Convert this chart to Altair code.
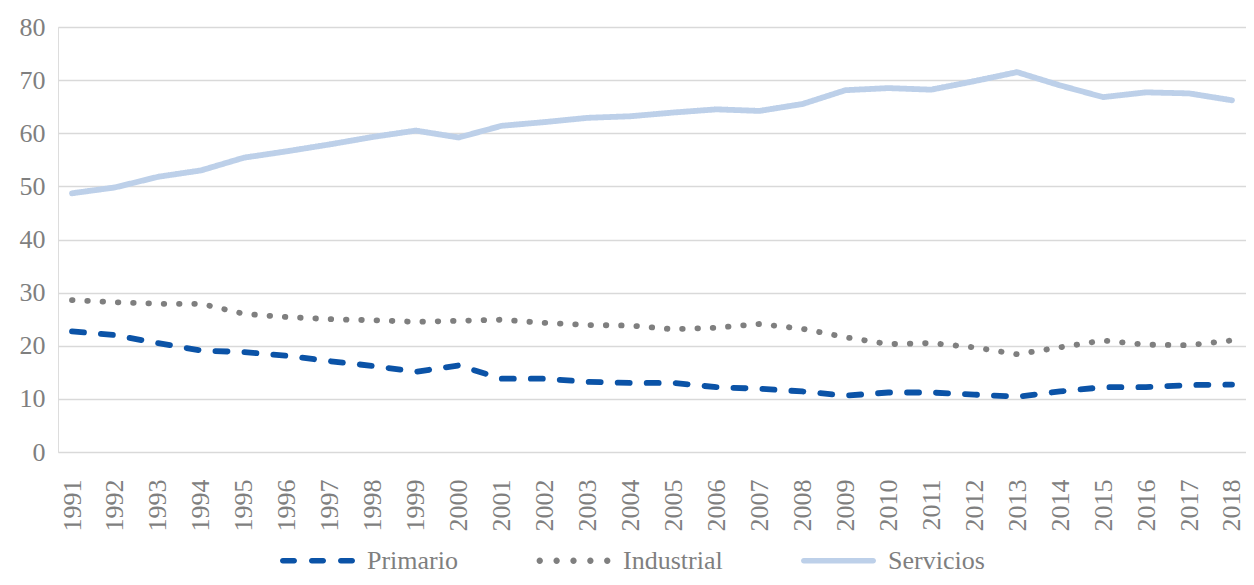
import altair as alt
import pandas as pd

years = list(range(1991, 2019))
series_names = ["Primario", "Industrial", "Servicios"]
primario = [22.7, 22.0, 20.5, 19.1, 18.8, 18.1, 17.1, 16.2, 15.1, 16.3, 13.8, 13.8, 13.2, 13.0,
            13.0, 12.2, 11.9, 11.4, 10.6, 11.2, 11.2, 10.8, 10.4, 11.4, 12.2, 12.2, 12.6, 12.7]
industrial = [28.6, 28.2, 27.9, 27.9, 26.0, 25.4, 25.0, 24.8, 24.5, 24.7, 24.9, 24.3, 23.9, 23.8,
              23.1, 23.4, 24.1, 23.2, 21.6, 20.3, 20.5, 19.7, 18.4, 19.7, 21.0, 20.2, 20.1, 21.0]
servicios = [48.7, 49.8, 51.8, 53.0, 55.4, 56.6, 57.9, 59.3, 60.5, 59.2, 61.4, 62.1, 62.9, 63.2,
             63.9, 64.5, 64.2, 65.5, 68.1, 68.5, 68.2, 69.8, 71.5, 69.0, 66.8, 67.7, 67.5, 66.2]
y_ticks = [0, 10, 20, 30, 40, 50, 60, 70, 80]
colors = ["#0b53a7", "#7f7f7f", "#bdd0e9"]

rows = []
for name, vals in zip(series_names, [primario, industrial, servicios]):
    for yr, v in zip(years, vals):
        rows.append({"anio": yr, "valor": v, "sector": name})
df = pd.DataFrame(rows)

FONT = "Liberation Serif"
TXT = "#7f7f7f"


# legend symbol glyphs (unit square -1..1)
def pill(x0, x1, r):
    return (f"M{x0 + r:.4f},{-r:.4f}H{x1 - r:.4f}A{r:.4f},{r:.4f} 0 0 1 {x1 - r:.4f},{r:.4f}"
            f"H{x0 + r:.4f}A{r:.4f},{r:.4f} 0 0 1 {x0 + r:.4f},{-r:.4f}Z")


def dot(cx, r):
    return (f"M{cx - r:.4f},0A{r:.4f},{r:.4f} 0 1 0 {cx + r:.4f},0"
            f"A{r:.4f},{r:.4f} 0 1 0 {cx - r:.4f},0Z")


R = 0.075
shape_dash = pill(-1, -0.547, R) + pill(-0.227, 0.227, R) + pill(0.547, 1, R)
shape_dots = "".join(dot(c, 0.085) for c in [-0.9, -0.45, 0.0, 0.45, 0.9])
shape_solid = pill(-1, 1, R)

x_enc = alt.X("anio:Q",
              scale=alt.Scale(domain=[1990.674, 2018.326], nice=False, zero=False),
              axis=alt.Axis(values=years, format="d", labelAngle=270, labelPadding=27,
                            grid=False, domain=False, ticks=False, tickSize=0, title=None,
                            labelFont=FONT, labelFontSize=26, labelColor=TXT,
                            labelOverlap=False, labelFlush=False))
y_enc = alt.Y("valor:Q",
              scale=alt.Scale(domain=[0, 80], nice=False),
              axis=alt.Axis(values=y_ticks, grid=True, gridColor="#d9d9d9", gridWidth=1.4,
                            domain=False, ticks=False, tickSize=0, title=None, labelPadding=13,
                            labelFont=FONT, labelFontSize=26, labelColor=TXT))

legend = alt.Legend(
    title=None,
    orient="none",
    direction="horizontal",
    columns=3,
    legendX=222,
    legendY=496,
    symbolSize=5625,
    symbolOpacity=1,
    symbolStrokeWidth=0,
    symbolFillColor="#0b53a7",
    labelFont=FONT,
    labelFontSize=26,
    labelColor=TXT,
    labelOffset=12,
    columnPadding=78,
)

keys = alt.Chart(df).mark_point(filled=True, fillOpacity=0, strokeOpacity=0, size=1).encode(
    x=x_enc,
    y=y_enc,
    fill=alt.Fill("sector:N", scale=alt.Scale(domain=series_names, range=colors),
                  sort=series_names, legend=legend),
    shape=alt.Shape("sector:N",
                    scale=alt.Scale(domain=series_names, range=[shape_dash, shape_dots, shape_solid]),
                    sort=series_names, legend=legend),
)

lines = alt.Chart(df).mark_line(strokeWidth=5.8, strokeCap="round", strokeJoin="round").encode(
    x=x_enc,
    y=y_enc,
    stroke=alt.Stroke("sector:N", scale=alt.Scale(domain=series_names, range=colors),
                      sort=series_names, legend=None),
    strokeDash=alt.StrokeDash("sector:N",
                              scale=alt.Scale(domain=series_names, range=[[12, 17], [0.5, 14.8], [1, 0]]),
                              sort=series_names, legend=None),
)

chart = alt.layer(keys, lines).properties(
    width=1188,
    height=425,
    autosize=alt.AutoSizeParams(type="none"),
    padding={"left": 50, "top": 19, "right": 0, "bottom": 125},
).configure_view(stroke=None).configure(background="white")

chart.save("out.html", embed_options={"renderer": "svg", "actions": False})
